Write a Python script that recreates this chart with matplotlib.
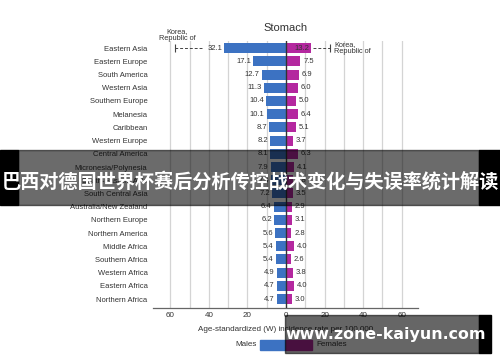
import matplotlib
matplotlib.use("Agg")
import matplotlib.pyplot as plt
from matplotlib.patches import Rectangle

plt.rcParams['font.family'] = ['Liberation Sans', 'DejaVu Sans']

regions = ["Eastern Asia", "Eastern Europe", "South America", "Western Asia",
           "Southern Europe", "Melanesia", "Caribbean", "Western Europe",
           "Central America", "Micronesia/Polynesia", "South-Eastern Asia",
           "South Central Asia", "Australia/New Zealand", "Northern Europe",
           "Northern America", "Middle Africa", "Southern Africa",
           "Western Africa", "Eastern Africa", "Northern Africa"]
males = [32.1, 17.1, 12.7, 11.3, 10.4, 10.1, 8.7, 8.2, 8.1, 7.9, 7.6,
         7.2, 6.4, 6.2, 5.6, 5.4, 5.4, 4.9, 4.7, 4.7]
females = [13.2, 7.5, 6.9, 6.0, 5.0, 6.4, 5.1, 3.7, 6.3, 4.1, 3.8,
           3.5, 2.9, 3.1, 2.8, 4.0, 2.6, 3.8, 4.0, 3.0]
korea_label = "Korea,\nRepublic of"
korea_male = 57.8
korea_female = 22.8
xticks = [-60, -40, -20, 0, 20, 40, 60]
xticklabels = ["60", "40", "20", "0", "20", "40", "60"]

BLUE = "#3c72c2"
MAG = "#b4289f"
TXT = "#333333"

fig = plt.figure(figsize=(5.0, 3.62), dpi=100)
ax = fig.add_axes([0.306, 0.149, 0.530, 0.738])

y = list(range(len(regions)))
for g in range(-60, 61, 10):
    if g != 0:
        ax.axvline(g, color="#d4d4d4", lw=0.9, zorder=0)

ax.barh(y, [-m for m in males], height=0.76, color=BLUE, zorder=2)
ax.barh(y, females, height=0.76, color=MAG, zorder=2)
ax.axvline(0, color="#333333", lw=1.0, zorder=3)

for i, (m, f) in enumerate(zip(males, females)):
    ax.annotate(f"{m:.1f}", (-m, i), xytext=(-1.5, 0), textcoords="offset points",
                ha="right", va="center", fontsize=5.5, color=TXT, zorder=4)
    if i == 0:
        ax.annotate(f"{f:.1f}", (f, i), xytext=(-1.5, 0), textcoords="offset points",
                    ha="right", va="center", fontsize=5.5, color=TXT, zorder=4)
    else:
        ax.annotate(f"{f:.1f}", (f, i), xytext=(2, 0), textcoords="offset points",
                    ha="left", va="center", fontsize=5.5, color=TXT, zorder=4)

# Korea reference markers
ax.plot([-43.5, -korea_male], [0, 0], ls=(0, (3, 2)), color="#444444", lw=0.7)
ax.plot([-korea_male], [0], marker="|", ms=6, color="#444444", mew=0.8)
ax.plot([females[0] + 0.8, korea_female], [0, 0], ls=(0, (3, 2)), color="#444444", lw=0.7)
ax.plot([korea_female], [0], marker="|", ms=6, color="#444444", mew=0.8)
ax.annotate(korea_label, (-korea_male, 0), xytext=(2, 4.5), textcoords="offset points",
            ha="center", va="bottom", fontsize=5.3, color=TXT, linespacing=0.95,
            annotation_clip=False)
ax.annotate(korea_label, (korea_female, 0), xytext=(3, 0), textcoords="offset points",
            ha="left", va="center", fontsize=5.3, color=TXT, linespacing=0.95,
            annotation_clip=False)

ax.set_xlim(-69, 68.5)
ax.set_ylim(19.68, -0.55)
ax.set_yticks(y)
ax.set_yticklabels(regions, fontsize=5.5, color=TXT)
ax.set_xticks(xticks)
ax.set_xticklabels(xticklabels, fontsize=5.8, color=TXT)
ax.tick_params(axis="y", length=0, pad=4)
ax.tick_params(axis="x", length=0, pad=3)
for s in ["top", "right", "left"]:
    ax.spines[s].set_visible(False)
ax.spines["bottom"].set_color("#666666")
ax.spines["bottom"].set_linewidth(0.9)
ax.set_xlabel("Age-standardized (W) incidence rate per 100,000", fontsize=5.8,
              color=TXT, labelpad=5)
ax.set_title("Stomach", fontsize=8, color=TXT, pad=7)

# Legend
fig.add_artist(Rectangle((260 / 500, 1 - 350 / 362), 26 / 500, 10 / 362,
                         transform=fig.transFigure, color=BLUE))
fig.add_artist(Rectangle((286 / 500, 1 - 350 / 362), 26 / 500, 10 / 362,
                         transform=fig.transFigure, color=MAG))
fig.text(257 / 500, 1 - 345 / 362, "Males", ha="right", va="center", fontsize=5.8, color=TXT)
fig.text(316 / 500, 1 - 345 / 362, "Females", ha="left", va="center", fontsize=5.8, color=TXT)

# Banner overlay
fig.add_artist(Rectangle((0, 1 - 205 / 362), 18 / 500, 55 / 362,
                         transform=fig.transFigure, color="black", zorder=10))
fig.add_artist(Rectangle((479 / 500, 1 - 205 / 362), 21 / 500, 55 / 362,
                         transform=fig.transFigure, color="black", zorder=10))
fig.add_artist(Rectangle((18 / 500, 1 - 205 / 362), 461 / 500, 55 / 362,
                         transform=fig.transFigure, color="black", alpha=0.58, zorder=10))
fig.text(0.5, 1 - 182 / 362, "巴西对德国世界杯赛后分析传控战术变化与失误率统计解读",
         ha="center", va="center", fontsize=13.8, color="white", fontweight="bold",
         family=["Noto Sans CJK SC", "DejaVu Sans"], zorder=11)

# Watermark overlay
fig.add_artist(Rectangle((285 / 500, 1 - 353 / 362), 194 / 500, 38 / 362,
                         transform=fig.transFigure, color="black", alpha=0.6, zorder=10))
fig.add_artist(Rectangle((479 / 500, 1 - 353 / 362), 12 / 500, 38 / 362,
                         transform=fig.transFigure, color="black", zorder=10))
fig.text(386 / 500, 1 - 335 / 362, "www.zone-kaiyun.com", ha="center", va="center",
         fontsize=11.4, color="white", fontweight="bold",
         family=["DejaVu Sans"], zorder=11)

fig.savefig("out.png", dpi=100, facecolor="white")
